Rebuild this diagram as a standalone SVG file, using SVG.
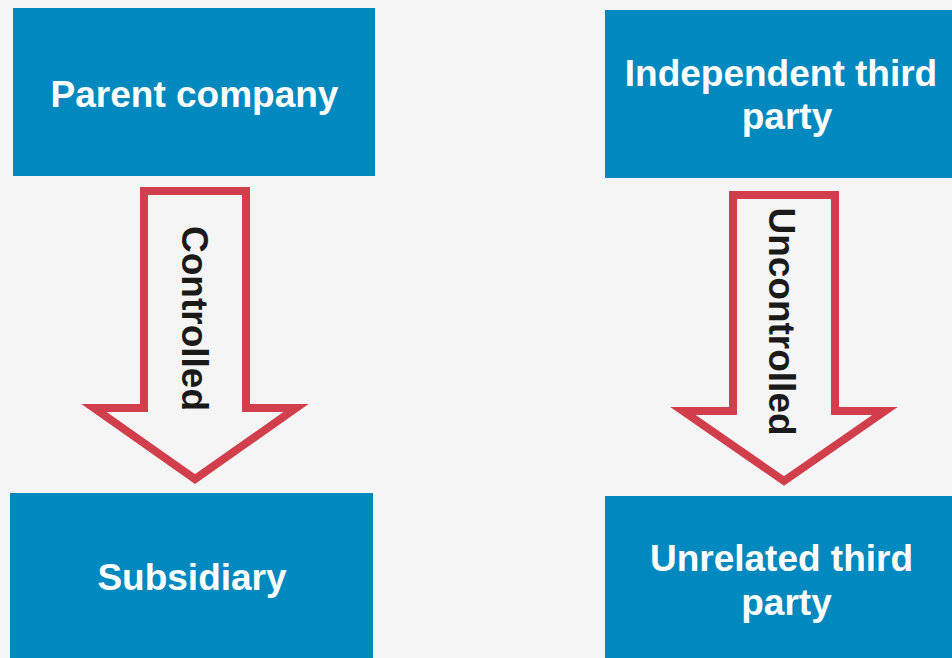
<svg xmlns="http://www.w3.org/2000/svg" width="952" height="658" viewBox="0 0 952 658">
<style>
.box{fill:#0089bf}
.bt{font-family:"Liberation Sans",Arial,sans-serif;font-weight:bold;font-size:37px;fill:#ffffff;text-anchor:middle}
.arr{fill:#f5f5f5;stroke:#d13f4c;stroke-width:8;stroke-linejoin:miter;stroke-miterlimit:10}
.at{font-family:"Liberation Sans",Arial,sans-serif;font-weight:bold;font-size:37px;fill:#1a1a1a;text-anchor:middle}
</style>
<rect x="0" y="0" width="952" height="658" fill="#f5f5f5"/>
<g id="connectors">
<g id="arrow-controlled">
<polygon class="arr" points="144,191 246,191 246,408 296,408 195,479 94,408 144,408"/>
<text class="at" transform="translate(182,318.5) rotate(90)" x="0" y="0">Controlled</text>
</g>
<g id="arrow-uncontrolled">
<polygon class="arr" points="733,195 835,195 835,411 885,411 784,481 683,411 733,411"/>
<text class="at" transform="translate(769,321.5) rotate(90)" x="0" y="0">Uncontrolled</text>
</g>
</g>
<g id="parent">
<rect class="box" x="13" y="8" width="362" height="168"/>
<text class="bt" x="194.5" y="107">Parent company</text>
</g>
<g id="independent">
<rect class="box" x="605" y="10" width="360" height="168"/>
<text class="bt" x="781" y="86">Independent third</text>
<text class="bt" x="787" y="129">party</text>
</g>
<g id="subsidiary">
<rect class="box" x="10" y="493" width="363" height="170"/>
<text class="bt" x="192" y="590">Subsidiary</text>
</g>
<g id="unrelated">
<rect class="box" x="605" y="496" width="360" height="170"/>
<text class="bt" x="781.5" y="571">Unrelated third</text>
<text class="bt" x="786.5" y="615">party</text>
</g>
</svg>
